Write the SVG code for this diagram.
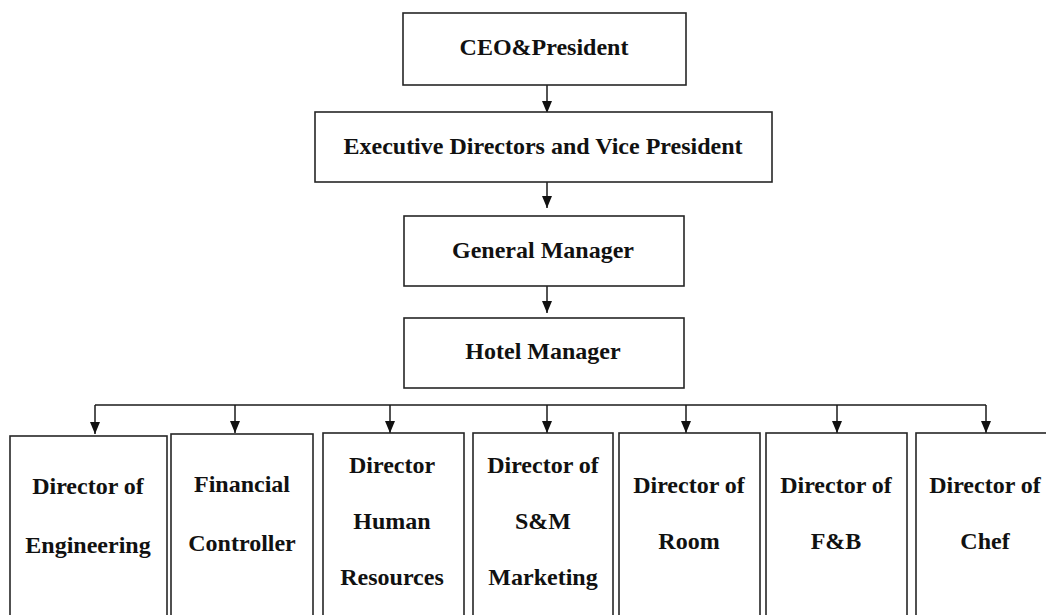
<svg xmlns="http://www.w3.org/2000/svg" width="1046" height="615" viewBox="0 0 1046 615">
  <style>
    .box { fill: #ffffff; stroke: #262626; stroke-width: 1.6; }
    .lbl { font-family: "Liberation Serif", "Times New Roman", serif; font-weight: bold; font-size: 24px; fill: #111111; text-anchor: middle; }
    .wire { fill: none; stroke: #1a1a1a; stroke-width: 1.5; }
  </style>
  <defs>
    <marker id="arrow" viewBox="0 0 12 10" refX="12" refY="5" markerWidth="12" markerHeight="10" markerUnits="userSpaceOnUse" orient="auto">
      <path d="M0,0 L12,5 L0,10 Z" fill="#111111"/>
    </marker>
  </defs>

  <rect width="1046" height="615" fill="#ffffff"/>

  <!-- connectors -->
  <g id="connectors">
    <line class="wire" x1="547" y1="85" x2="547" y2="113" marker-end="url(#arrow)"/>
    <line class="wire" x1="547" y1="182" x2="547" y2="208" marker-end="url(#arrow)"/>
    <line class="wire" x1="547" y1="286" x2="547" y2="313" marker-end="url(#arrow)"/>
    <line class="wire" x1="95" y1="405" x2="986" y2="405"/>
    <line class="wire" x1="95" y1="405" x2="95" y2="434" marker-end="url(#arrow)"/>
    <line class="wire" x1="235" y1="405" x2="235" y2="433" marker-end="url(#arrow)"/>
    <line class="wire" x1="390" y1="405" x2="390" y2="433" marker-end="url(#arrow)"/>
    <line class="wire" x1="547" y1="405" x2="547" y2="433" marker-end="url(#arrow)"/>
    <line class="wire" x1="686" y1="405" x2="686" y2="433" marker-end="url(#arrow)"/>
    <line class="wire" x1="837" y1="405" x2="837" y2="433" marker-end="url(#arrow)"/>
    <line class="wire" x1="986" y1="405" x2="986" y2="433" marker-end="url(#arrow)"/>
  </g>

  <!-- top chain -->
  <g id="ceo">
    <rect class="box" x="403" y="13" width="283" height="72"/>
    <text class="lbl" x="544" y="55">CEO&amp;President</text>
  </g>
  <g id="executive">
    <rect class="box" x="315" y="112" width="457" height="70"/>
    <text class="lbl" x="543" y="154">Executive Directors and Vice President</text>
  </g>
  <g id="general-manager">
    <rect class="box" x="404" y="216" width="280" height="70"/>
    <text class="lbl" x="543" y="258">General Manager</text>
  </g>
  <g id="hotel-manager">
    <rect class="box" x="404" y="318" width="280" height="70"/>
    <text class="lbl" x="543" y="359">Hotel Manager</text>
  </g>

  <!-- departments -->
  <g id="engineering">
    <rect class="box" x="10" y="436" width="157" height="190"/>
    <text class="lbl" x="88" y="494">Director of</text>
    <text class="lbl" x="88" y="553">Engineering</text>
  </g>
  <g id="finance">
    <rect class="box" x="171" y="434" width="142" height="190"/>
    <text class="lbl" x="242" y="492">Financial</text>
    <text class="lbl" x="242" y="551">Controller</text>
  </g>
  <g id="human-resources">
    <rect class="box" x="323" y="433" width="141" height="190"/>
    <text class="lbl" x="392" y="473">Director</text>
    <text class="lbl" x="392" y="529">Human</text>
    <text class="lbl" x="392" y="585">Resources</text>
  </g>
  <g id="sales-marketing">
    <rect class="box" x="473" y="433" width="140" height="190"/>
    <text class="lbl" x="543" y="473">Director of</text>
    <text class="lbl" x="543" y="529">S&amp;M</text>
    <text class="lbl" x="543" y="585">Marketing</text>
  </g>
  <g id="rooms">
    <rect class="box" x="619" y="433" width="141" height="190"/>
    <text class="lbl" x="689" y="493">Director of</text>
    <text class="lbl" x="689" y="549">Room</text>
  </g>
  <g id="food-beverage">
    <rect class="box" x="766" y="433" width="141" height="190"/>
    <text class="lbl" x="836" y="493">Director of</text>
    <text class="lbl" x="836" y="549">F&amp;B</text>
  </g>
  <g id="chef">
    <rect class="box" x="916" y="433" width="140" height="190"/>
    <text class="lbl" x="985" y="493">Director of</text>
    <text class="lbl" x="985" y="549">Chef</text>
  </g>
</svg>
